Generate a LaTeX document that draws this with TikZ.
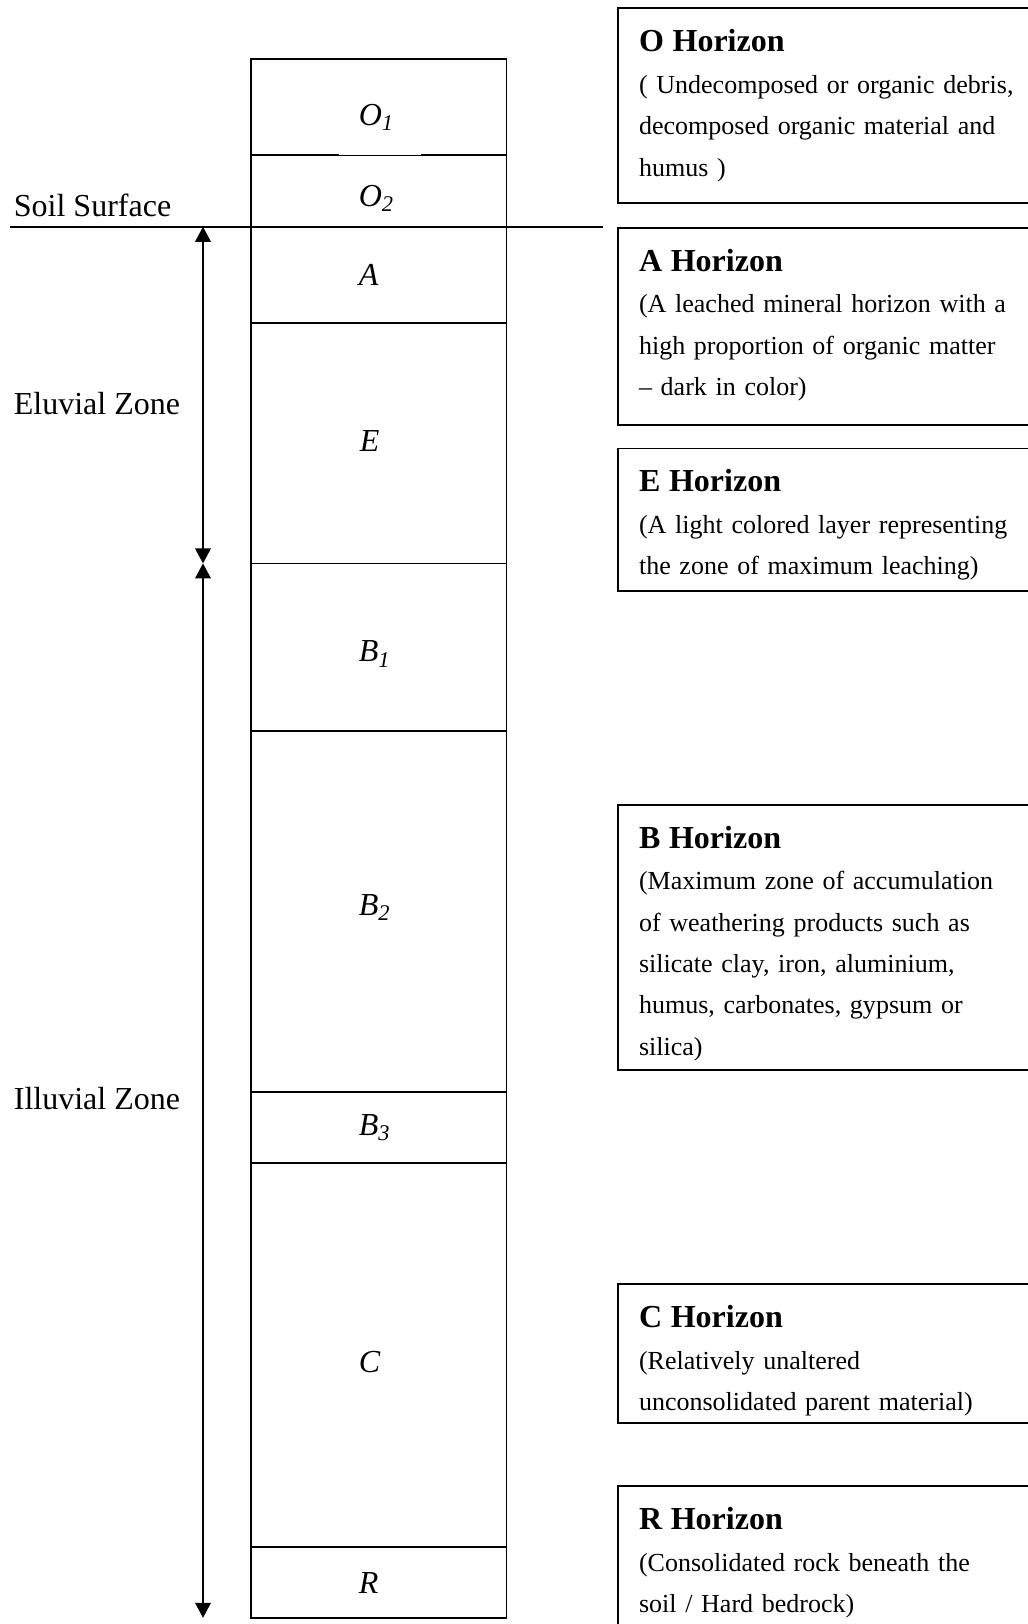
\documentclass[tikz,border=0pt]{standalone}
\usepackage{fontspec}
\setmainfont{Liberation Serif}
\usetikzlibrary{positioning,arrows.meta}
\newcommand{\soilunit}{0.5176pt}

\tikzset{
  layer/.style={draw, line width=0.9pt, outer sep=0pt, inner sep=0pt,
    minimum width=247*\soilunit, minimum height=#1*\soilunit},
  layername/.style={anchor=base west, inner sep=0pt,
    font=\fontsize{16}{19}\selectfont\itshape},
  horizon/.style={draw, line width=0.9pt, anchor=north west, outer sep=0pt,
    inner xsep=20*\soilunit, inner ysep=0pt, text width=400*\soilunit,
    text height=42*\soilunit, text depth=#1*\soilunit-42*\soilunit, align=left,
    font=\fontsize{13}{20.7}\selectfont},
  zonelabel/.style={anchor=base west, inner sep=0pt,
    font=\fontsize{16}{19}\selectfont},
  zonearrow/.style={line width=0.9pt,
    {Triangle[length=7.5pt,width=7.8pt]}-{Triangle[length=7.5pt,width=7.8pt]}},
}
\newcommand{\hzhead}[1]{{\fontsize{16}{20.7}\selectfont\bfseries #1}}

\begin{document}
\begin{tikzpicture}[x=\soilunit, y=-\soilunit]
    \useasboundingbox (0,0) rectangle (992,1568);
    % soil column
    \node[layer=93] (o1) at (365.5,103.5) {};
    \node[layer=69, below=0pt of o1] (o2) {};
    \node[layer=93, below=0pt of o2] (a) {};
    \node[layer=232, below=0pt of a] (e) {};
    \node[layer=162, below=0pt of e] (b1) {};
    \node[layer=348, below=0pt of b1] (b2) {};
    \node[layer=69, below=0pt of b2] (b3) {};
    \node[layer=371, below=0pt of b3] (c) {};
    \node[layer=68, below=0pt of c] (r) {};
    % thin part of the O1/O2 line
    \coordinate (gap_w) at ([xshift=-38.5*\soilunit, yshift=0.25pt]o1.south);
    \coordinate (gap_e) at ([xshift=40.5*\soilunit, yshift=0.25pt]o1.south);
    \draw[white, line width=0.45pt] (gap_w) -- (gap_e);
    % layer names
    \node[layername] (o1_name) at (346,121) {O\textsubscript{1}};
    \node[layername] (o2_name) at (346,199) {O\textsubscript{2}};
    \node[layername] (a_name) at (346,276) {A};
    \node[layername] (e_name) at (347,436) {E};
    \node[layername] (b1_name) at (346,639) {B\textsubscript{1}};
    \node[layername] (b2_name) at (346,884) {B\textsubscript{2}};
    \node[layername] (b3_name) at (346,1096) {B\textsubscript{3}};
    \node[layername] (c_name) at (346,1325) {C};
    \node[layername] (r_name) at (346,1539) {R};
    % soil surface
    \coordinate (surf_w) at (10,219);
    \coordinate (surf_e) at (582,219);
    \draw[line width=0.9pt] (surf_w) -- (surf_e);
    % zones
    \coordinate (arrowx) at (196,0);
    \draw[zonearrow] (arrowx |- a.north) -- (arrowx |- e.south);
    \draw[zonearrow] (arrowx |- b1.north) -- (arrowx |- r.south);
    \node[zonelabel] (surf_label) at (13,209) {Soil Surface};
    \node[zonelabel] (eluvial) at (13,400) {Eluvial Zone};
    \node[zonelabel] (illuvial) at (13,1071) {Illuvial Zone};
    % horizon boxes
    \node[horizon=188] (o_box) at (597,8) {\hzhead{O Horizon}\\
      ( Undecomposed or organic debris,\\ decomposed organic material and\\ humus )};
    \node[horizon=190] (a_box) at (597,220) {\hzhead{A Horizon}\\
      (A leached mineral horizon with a\\ high proportion of organic matter\\ -- dark in color)};
    \node[horizon=138] (e_box) at (597,433) {\hzhead{E Horizon}\\
      (A light colored layer representing\\ the zone of maximum leaching)};
    \node[horizon=256] (b_box) at (597,777) {\hzhead{B Horizon}\\
      (Maximum zone of accumulation\\ of weathering products such as\\ silicate clay, iron, aluminium,\\ humus, carbonates, gypsum or\\ silica)};
    \node[horizon=134] (c_box) at (597,1240) {\hzhead{C Horizon}\\
      (Relatively unaltered\\ unconsolidated parent material)};
    \node[horizon=150] (r_box) at (597,1435) {\hzhead{R Horizon}\\
      (Consolidated rock beneath the\\ soil / Hard bedrock)};
\end{tikzpicture}
\end{document}
